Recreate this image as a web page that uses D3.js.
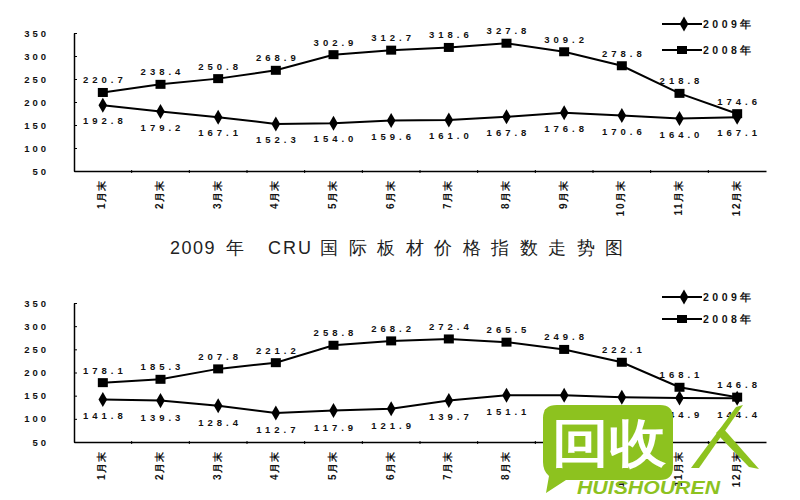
<!DOCTYPE html>
<html><head><meta charset="utf-8">
<script src="https://cdn.jsdelivr.net/npm/d3@7"></script>
<style>
body{margin:0;background:#fff}
text{font-family:"Liberation Sans",Arial,sans-serif}
</style></head><body>
<svg id="c" width="800" height="500"></svg>
<script>
const months = ["1月末","2月末","3月末","4月末","5月末","6月末","7月末","8月末","9月末","10月末","11月末","12月末"];
const yTicks = [50,100,150,200,250,300,350];
const seriesNames = ["2009年","2008年"];
const top2009 = [192.8,179.2,167.1,152.3,154.0,159.6,161.0,167.8,176.8,170.6,164.0,167.1];
const top2008 = [220.7,238.4,250.8,268.9,302.9,312.7,318.6,327.8,309.2,278.8,218.8,174.6];
const bot2009 = [141.8,139.3,128.4,112.7,117.9,121.9,139.7,151.1,150.9,146.6,144.9,144.4];
const bot2008 = [178.1,185.3,207.8,221.2,258.8,268.2,272.4,265.5,249.8,222.1,168.1,146.8];
const titleParts = ["2009","年","CRU","国际板材价格指数走势图"];

const svg = d3.select("#c");
svg.append("rect").attr("width",800).attr("height",500).attr("fill","#fff");

function panel(yTop, yBot, d09, d08, legY, legGap, below){
  const g = svg.append("g");
  const x = d3.scaleBand().domain(months).range([74,766]);
  const y = d3.scaleLinear().domain([50,350]).range([yBot,yTop]);
  const cx = m => x(m) + x.bandwidth()/2;

  const ya = g.append("g").attr("transform","translate(74,0)")
    .call(d3.axisLeft(y).tickValues(yTicks).tickSize(-3).tickSizeOuter(0).tickPadding(25).tickFormat(d3.format("d")));
  ya.select(".domain").attr("stroke","#000").attr("stroke-width",1.5);
  ya.selectAll("line").attr("stroke","#000");
  ya.selectAll("text").attr("font-size",9.5).attr("font-weight","bold").attr("letter-spacing","3px").attr("fill","#111");

  const xa = g.append("g").attr("transform",`translate(0,${yBot})`)
    .call(d3.axisBottom(x).tickSize(0).tickSizeOuter(0).tickPadding(0));
  xa.select(".domain").attr("stroke","#000").attr("stroke-width",1.5);
  xa.selectAll("text")
    .attr("transform","translate(-1,8) rotate(-90)")
    .attr("text-anchor","end").attr("dy","0.35em").attr("y",0)
    .attr("font-size",10).attr("font-weight","bold").attr("letter-spacing","1.5px").attr("fill","#111");
  g.selectAll("line.bt").data(months.slice(1)).join("line").attr("class","bt")
    .attr("x1",d=>x(d)).attr("x2",d=>x(d)).attr("y1",yBot-1).attr("y2",yBot+2)
    .attr("stroke","#000").attr("stroke-width",1);

  const line = d3.line().x((d,i)=>cx(months[i])).y(d=>y(d));
  g.append("path").datum(d08).attr("d",line).attr("fill","none").attr("stroke","#000").attr("stroke-width",2);
  g.append("path").datum(d09).attr("d",line).attr("fill","none").attr("stroke","#000").attr("stroke-width",2);

  const diamond = d3.symbol().type(d3.symbolDiamond).size(65);
  g.selectAll("path.dm").data(d09).join("path").attr("class","dm")
    .attr("d",diamond).attr("transform",(d,i)=>`translate(${cx(months[i])},${y(d)})`).attr("fill","#000");
  g.selectAll("rect.sq").data(d08).join("rect").attr("class","sq")
    .attr("x",(d,i)=>cx(months[i])-5).attr("y",d=>y(d)-4.5).attr("width",10).attr("height",9).attr("fill","#000");

  g.selectAll("text.l8").data(d08).join("text").attr("class","l8")
    .attr("x",(d,i)=>cx(months[i])+2).attr("y",d=>y(d)-9)
    .attr("text-anchor","middle").attr("font-size",9.5).attr("font-weight","bold").attr("letter-spacing","4px").attr("fill","#111")
    .text(d=>d.toFixed(1));
  g.selectAll("text.l9").data(d09).join("text").attr("class","l9")
    .attr("x",(d,i)=>cx(months[i])+2).attr("y",d=>y(d)+below)
    .attr("text-anchor","middle").attr("font-size",9.5).attr("font-weight","bold").attr("letter-spacing","4px").attr("fill","#111")
    .text(d=>d.toFixed(1));

  const lg = g.append("g");
  seriesNames.forEach((s,i)=>{
    const ly = legY + i*legGap;
    lg.append("line").attr("x1",662).attr("x2",702).attr("y1",ly).attr("y2",ly).attr("stroke","#000").attr("stroke-width",2);
    if(i===0) lg.append("path").attr("d",diamond).attr("transform",`translate(684,${ly})`).attr("fill","#000");
    else lg.append("rect").attr("x",677).attr("y",ly-4).attr("width",10).attr("height",8).attr("fill","#000");
    lg.append("text").attr("x",703).attr("y",ly+4).attr("font-size",10.5).attr("font-weight","bold")
      .attr("letter-spacing","3.5px").attr("fill","#111").text(s);
  });
}

panel(33, 171, top2009, top2008, 24, 26, 19);
panel(303, 442, bot2009, bot2008, 297, 22, 20);

// title
const tt = svg.append("text").attr("y",254).attr("font-family","'Noto Sans CJK SC',sans-serif")
  .attr("font-size",18).attr("fill","#222");
tt.append("tspan").attr("x",170).attr("letter-spacing","1.5px").text(titleParts[0]);
tt.append("tspan").attr("x",226).text(titleParts[1]);
tt.append("tspan").attr("x",268).attr("letter-spacing","2px").text(titleParts[2]);
tt.append("tspan").attr("x",320).attr("letter-spacing","10.5px").text(titleParts[3]);

// watermark logo
const green = "#8dc21f";
const wm = svg.append("g");
wm.append("path").attr("d","M557,405 H660 Q673,405 673,418 V467 Q673,480 660,480 H566 L546,493 L549,476 Q543,471 543,462 V418 Q543,405 557,405 Z").attr("fill",green);
wm.append("text").attr("x",552).attr("y",461).attr("font-family","'Noto Sans CJK SC',sans-serif")
  .attr("font-size",52).attr("font-weight","bold").attr("fill","#fff").attr("textLength",114).attr("lengthAdjust","spacingAndGlyphs").text("回收");
wm.append("path").attr("d","M691,468 L699,468 L743,405 L736,407 Z").attr("fill",green);
wm.append("path").attr("d","M716,433 L722,427 L759,469 L749,467 Z").attr("fill",green);
wm.append("text").attr("x",577).attr("y",494).attr("font-size",19).attr("font-weight","bold").attr("font-style","italic")
  .attr("fill",green).attr("textLength",143).attr("lengthAdjust","spacingAndGlyphs").text("HUISHOUREN");
</script>
</body></html>
